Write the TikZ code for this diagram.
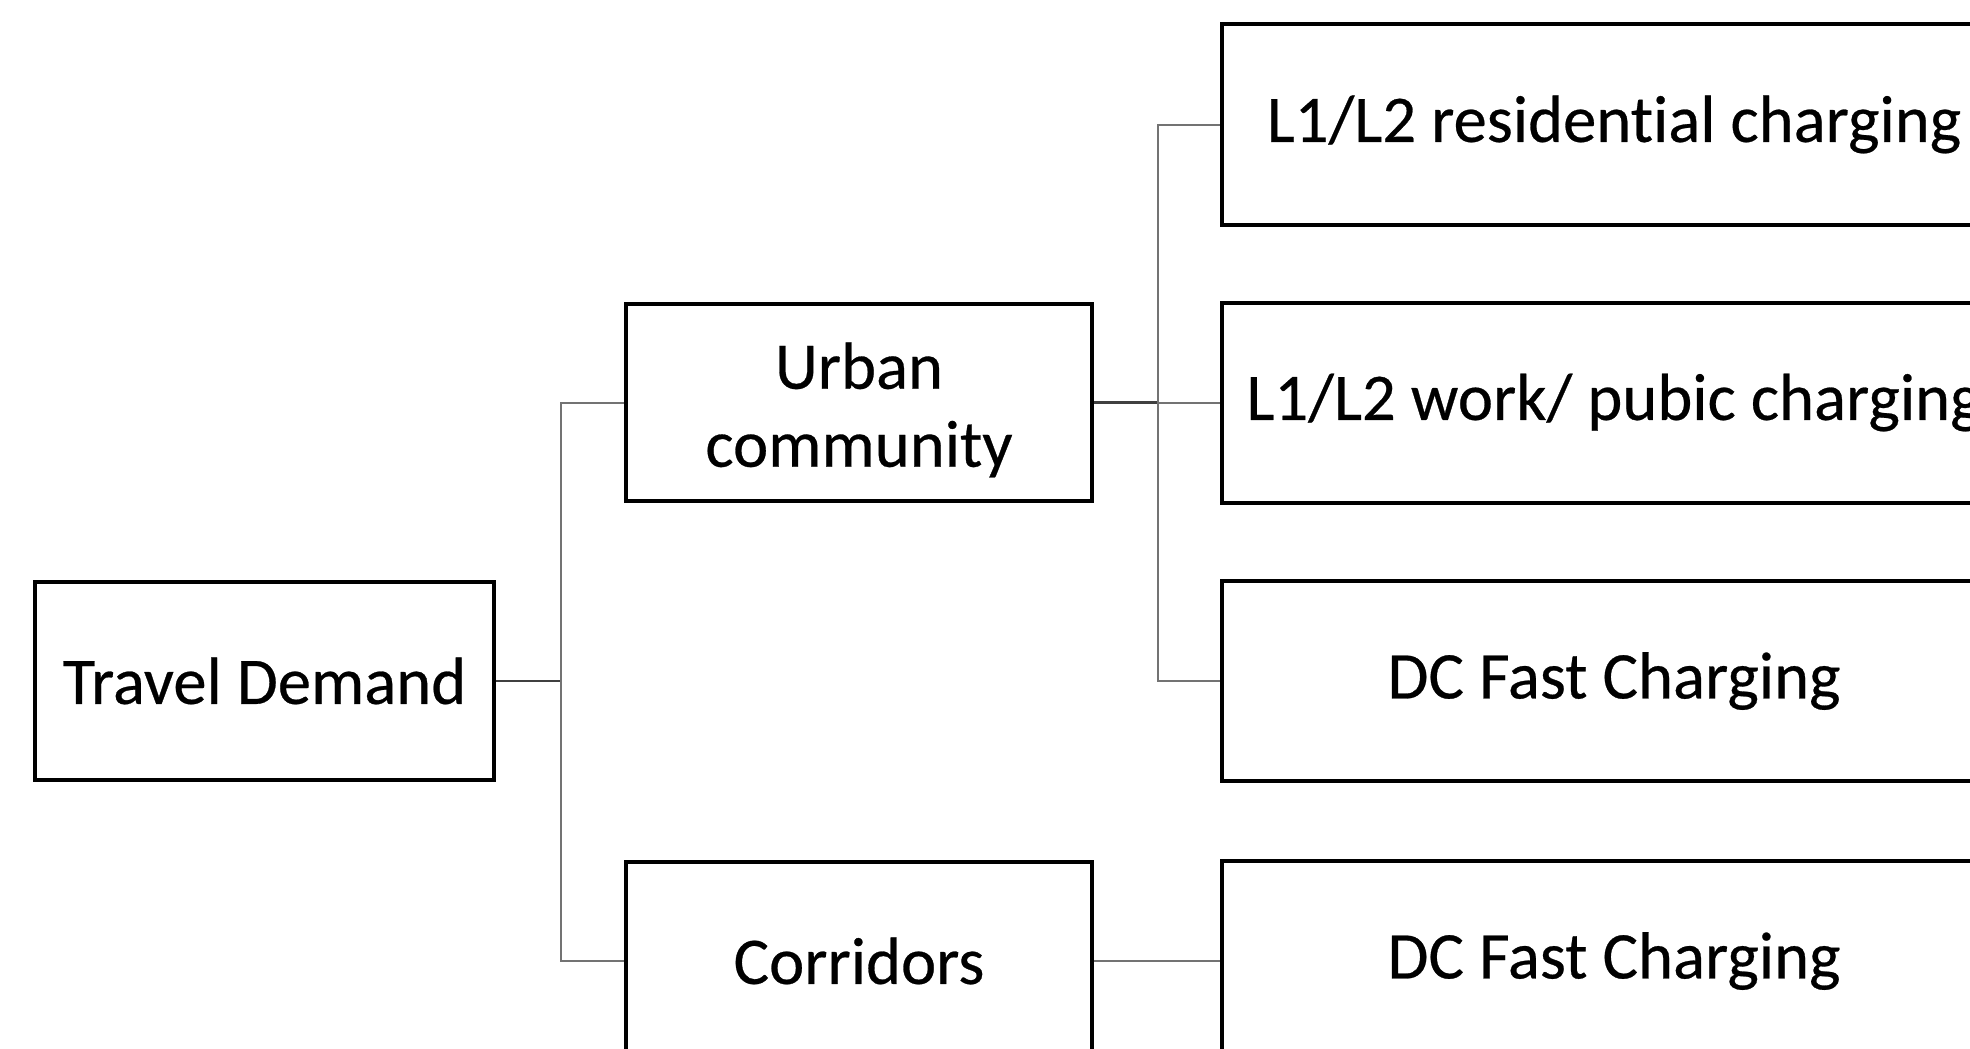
\documentclass[tikz,border=0pt]{standalone}
\usepackage{fontspec}
\setmainfont[Ligatures=NoCommon,FakeBold=0.4]{Carlito}
\newcommand{\mylower}[1]{\raisebox{-5.6pt}[\height][\depth]{#1}}
\begin{document}
\begin{tikzpicture}[x=0.75pt,y=-0.75pt,
  box/.style={draw=black, line width=3pt, fill=white, rectangle, inner sep=0pt,
    align=center, font=\fontsize{50}{58.5}\selectfont},
  leftbox/.style={box, minimum width=344pt, minimum height=148.5pt},
  midbox/.style={box, minimum width=349.5pt, minimum height=148pt},
  rightbox/.style={box, minimum width=588pt, minimum height=150pt},
  conn/.style={draw=black!55, line width=1.5pt},
  darkconn/.style={draw=black!75, line width=1.8pt}]
\useasboundingbox (0,0) rectangle (1970,1049);
\clip (0,0) rectangle (1970,1049);
\fill[white] (0,0) rectangle (1970,1049);

\node[leftbox] (td) at (264.5,681) {Travel Demand};
\node[midbox] (urban) at (859,402.5) {\mylower{Urban}\\\mylower{community}};
\node[midbox] (corr) at (859,961) {Corridors};
\node[rightbox] (r1) at (1614,124.5) {L1/L2 residential charging};
\node[rightbox] (r2) at (1614,402.5) {L1/L2 work/ pubic charging};
\node[rightbox] (r3) at (1614,681) {DC Fast Charging};
\node[rightbox] (r4) at (1614,961) {DC Fast Charging};

\coordinate (j1) at (561,681);
\coordinate (j2) at (1158,402.5);

\draw[darkconn] (td.east) -- (j1);
\draw[conn] (urban.west) -| (j1) |- (corr.west);
\draw[darkconn] (urban.east) -- (j2);
\draw[conn] (j2) -- (r2.west);
\draw[conn] (r1.west) -| (j2) |- (r3.west);
\draw[conn] (corr.east) -- (r4.west);
\end{tikzpicture}
\end{document}
